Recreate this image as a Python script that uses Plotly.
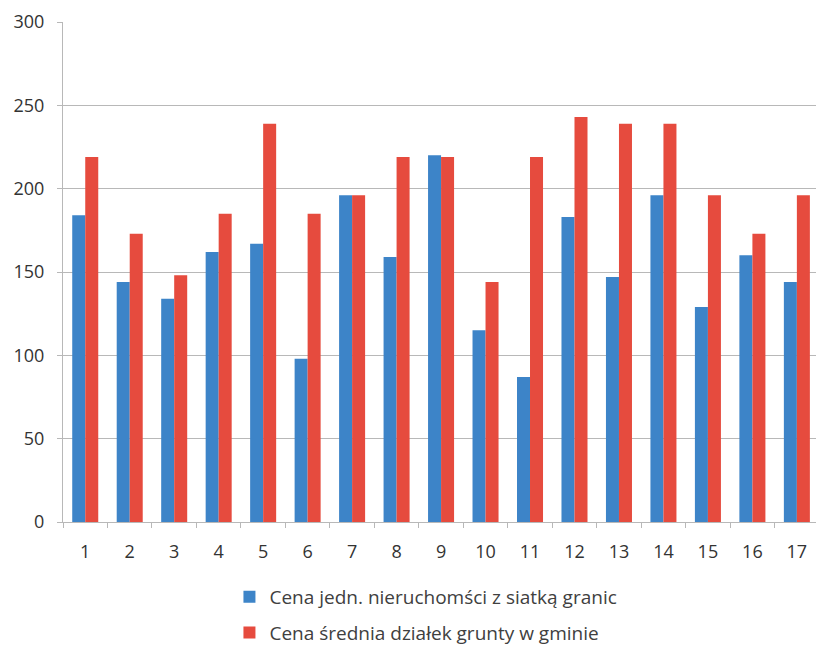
import plotly.graph_objects as go

# Działki 1–17: cena jednostkowa vs średnia cena w gminie
categories = [str(i) for i in range(1, 18)]
cena_jedn = [184, 144, 134, 162, 167, 98, 196, 159, 220, 115, 87, 183, 147, 196, 129, 160, 144]
cena_srednia = [219, 173, 148, 185, 239, 185, 196, 219, 219, 144, 219, 243, 239, 239, 196, 173, 196]
y_ticks = [0, 50, 100, 150, 200, 250, 300]

BLUE = "#3D84C8"
RED = "#E64B3E"
GRID = "#B8B8B8"
FONT = "Open Sans"

fig = go.Figure()
fig.add_trace(go.Bar(
    x=categories, y=cena_jedn, name="Cena jedn. nieruchomści z siatką granic",
    marker=dict(color=BLUE, line=dict(width=0)), legendgroup="a",
))
fig.add_trace(go.Bar(
    x=categories, y=cena_srednia, name="Cena średnia działek grunty w gminie",
    marker=dict(color=RED, line=dict(width=0)), legendgroup="b",
))

fig.update_layout(
    width=816, height=652,
    margin=dict(l=63, r=0, t=22, b=130),
    paper_bgcolor="white", plot_bgcolor="white",
    barmode="group", bargap=0.415, bargroupgap=0,
    font=dict(family=FONT, color="#333333", size=16),
    legend=dict(
        orientation="v", x=0.482, xanchor="center",
        y=-0.112, yanchor="top",
        font=dict(size=19, color="#404040"), tracegroupgap=8,
        itemwidth=30,
    ),
    xaxis=dict(
        type="category", range=[-0.5, 16.43],
        showline=True, linecolor=GRID, linewidth=1,
        ticks="outside", tickson="boundaries", ticklen=5, tickcolor=GRID,
        tickfont=dict(size=18, color="#333333"), ticklabelstandoff=13,
        tickangle=0, showgrid=False, automargin=False,
    ),
    yaxis=dict(
        range=[0, 300], tickvals=y_ticks,
        showline=True, linecolor=GRID, linewidth=1,
        showgrid=True, gridcolor=GRID, gridwidth=1,
        ticks="outside", ticklen=5, tickcolor=GRID,
        tickfont=dict(size=18, color="#333333"), ticklabelstandoff=9,
        zeroline=False, automargin=False,
    ),
)

fig.write_html("out.html")
